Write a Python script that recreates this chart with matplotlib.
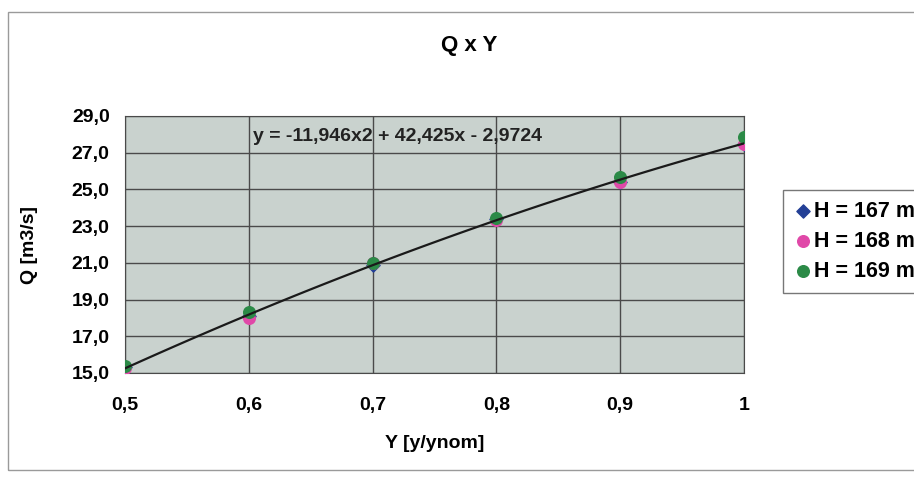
import numpy as np
import matplotlib
matplotlib.use("Agg")
from matplotlib import pyplot as plt
from matplotlib.patches import Rectangle

plt.rcParams['font.family'] = ['Liberation Sans', 'DejaVu Sans']
plt.rcParams['font.weight'] = 'bold'

y_ratio = [0.5, 0.6, 0.7, 0.8, 0.9, 1.0]
q_167 = [15.3, 18.1, 20.9, 23.4, 25.4, 27.5]
q_168 = [15.25, 18.0, 21.0, 23.35, 25.4, 27.45]
q_169 = [15.4, 18.3, 21.0, 23.45, 25.7, 27.85]
trend_coef = [-11.946, 42.425, -2.9724]

y_ticks = [15.0, 17.0, 19.0, 21.0, 23.0, 25.0, 27.0, 29.0]
x_ticks = [0.5, 0.6, 0.7, 0.8, 0.9, 1.0]
x_labels = ['0,5', '0,6', '0,7', '0,8', '0,9', '1']

fig = plt.figure(figsize=(9.14, 4.78), dpi=100)
fig.patch.set_facecolor('white')
# outer chart border
fig.add_artist(Rectangle((8 / 914, 8 / 478), 1.2, 458 / 478, transform=fig.transFigure,
                         fill=False, edgecolor='#9a9a9a', linewidth=1))

ax = fig.add_axes([125 / 914, 1 - 373 / 478, 619 / 914, 257 / 478])
ax.set_facecolor('#c9d2ce')

ax.scatter(y_ratio, q_167, marker='D', s=45, color='#233f96', zorder=3, label='H = 167 m')
ax.scatter(y_ratio, q_168, marker='o', s=70, color='#e048a8', zorder=4, label='H = 168 m')
ax.scatter(y_ratio, q_169, marker='o', s=70, color='#2b8a47', zorder=5, label='H = 169 m')

xs = np.linspace(0.5, 1.0, 100)
ax.plot(xs, np.polyval(trend_coef, xs), color='#1a1a1a', linewidth=1.6, zorder=6)

ax.set_xlim(0.5, 1.0)
ax.set_ylim(15.0, 29.0)
ax.set_xticks(x_ticks)
ax.set_xticklabels(x_labels)
ax.set_yticks(y_ticks)
ax.set_yticklabels([f'{v:.1f}'.replace('.', ',') for v in y_ticks])
ax.tick_params(axis='both', labelsize=14, length=0)
ax.tick_params(axis='x', pad=17)
ax.tick_params(axis='y', pad=11)
ax.grid(True, color='#4a4a4a', linewidth=1)
ax.set_axisbelow(True)
for s in ax.spines.values():
    s.set_color('#4a4a4a')

ax.text(253 / 914, 1 - 136 / 478, 'y = -11,946x2 + 42,425x - 2,9724', transform=fig.transFigure,
        fontsize=14, ha='left', va='center', color='#222222', zorder=7)

fig.text(469 / 914, 1 - 46 / 478, 'Q x Y', ha='center', va='center', fontsize=16)
fig.text(30 / 914, 1 - 245 / 478, 'Q [m3/s]', rotation=90, ha='center', va='center', fontsize=14)
fig.text(435 / 914, 1 - 443 / 478, 'Y [y/ynom]', ha='center', va='center', fontsize=14)

leg = fig.legend(loc='upper left', bbox_to_anchor=(783 / 914, 1 - 190 / 478),
                 frameon=True, fancybox=False, fontsize=15.5, handletextpad=0.05,
                 handlelength=0.9, borderpad=0.5, labelspacing=0.42, borderaxespad=0)
leg.get_frame().set_edgecolor('#555555')
leg.get_frame().set_linewidth(1)

fig.savefig('out.png', dpi=100)
